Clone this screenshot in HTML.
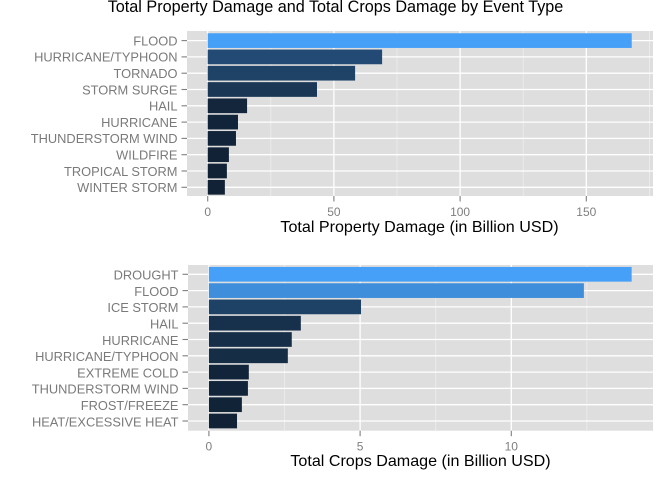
<!DOCTYPE html>
<html>
<head>
<meta charset="utf-8">
<title>Total Property Damage and Total Crops Damage by Event Type</title>
<style>
html,body{margin:0;padding:0;background:#fff;width:672px;height:480px;overflow:hidden}
svg{display:block}
text{font-family:"Liberation Sans",sans-serif}
</style>
</head>
<body>
<svg id="chart" width="672" height="480" viewBox="0 0 672 480" xmlns="http://www.w3.org/2000/svg">
<text x="335.5" y="12" text-anchor="middle" font-size="16.2" fill="#000">Total Property Damage and Total Crops Damage by Event Type</text>
</svg>
<script>
const propertyCategories = ["FLOOD","HURRICANE/TYPHOON","TORNADO","STORM SURGE","HAIL","HURRICANE","THUNDERSTORM WIND","WILDFIRE","TROPICAL STORM","WINTER STORM"];
const propertyValues = [168, 69.1, 58.4, 43.3, 15.6, 12, 11.2, 8.4, 7.6, 6.8];
const propertyTicks = [0, 50, 100, 150];
const propertyMinorTicks = [25, 75, 125, 175];
const propertyAxisTitle = "Total Property Damage (in Billion USD)";

const cropCategories = ["DROUGHT","FLOOD","ICE STORM","HAIL","HURRICANE","HURRICANE/TYPHOON","EXTREME COLD","THUNDERSTORM WIND","FROST/FREEZE","HEAT/EXCESSIVE HEAT"];
const cropValues = [13.98, 12.4, 5.03, 3.04, 2.74, 2.61, 1.32, 1.29, 1.09, 0.93];
const cropTicks = [0, 5, 10];
const cropMinorTicks = [2.5, 7.5, 12.5];
const cropAxisTitle = "Total Crops Damage (in Billion USD)";

const svg = document.getElementById('chart');
const NS = 'http://www.w3.org/2000/svg';

function make(tag, attrs, parent) {
  const el = document.createElementNS(NS, tag);
  for (const k in attrs) el.setAttribute(k, attrs[k]);
  parent.appendChild(el);
  return el;
}

function barColor(v, min, max) {
  const t = Math.pow((v - min) / (max - min), 1.2);
  const lo = [17, 34, 54], hi = [70, 160, 247];
  const c = lo.map((l, i) => Math.round(l + (hi[i] - l) * t));
  return 'rgb(' + c.join(',') + ')';
}

function drawPanel(p) {
  const x = v => p.zeroX + v * p.pxPerUnit;
  const y = i => p.firstY + i * p.stepY;
  const min = Math.min(...p.values), max = Math.max(...p.values);

  const g = make('g', {}, svg);
  
  

  const bg = make('rect', {x: p.left, y: p.top, width: p.right - p.left, height: p.bottom - p.top, fill: '#dedede'}, g);
  
  

  p.minor.forEach(v => {
    const l = make('line', {x1: x(v), x2: x(v), y1: p.top, y2: p.bottom, stroke: '#eeeeee', 'stroke-width': 0.8}, g);
    
    
  });
  p.ticks.forEach(v => {
    const l = make('line', {x1: x(v), x2: x(v), y1: p.top, y2: p.bottom, stroke: '#ffffff', 'stroke-width': 1.3}, g);
    
    
  });
  p.categories.forEach((c, i) => {
    const l = make('line', {x1: p.left, x2: p.right, y1: y(i), y2: y(i), stroke: '#ffffff', 'stroke-width': 1.3}, g);
    
    
  });

  p.values.forEach((v, i) => {
    const r = make('rect', {x: x(0), y: y(i) - 7.35, width: x(v) - x(0), height: 14.7, fill: barColor(v, min, max)}, g);
    
    
  });

  p.categories.forEach((c, i) => {
    const tk = make('line', {x1: p.left - 5.5, x2: p.left, y1: y(i), y2: y(i), stroke: '#7f7f7f', 'stroke-width': 1.1}, g);
    
    
    const t = make('text', {x: p.left - 9.5, y: y(i) + p.labelDy, 'text-anchor': 'end', 'font-size': 12.85, fill: '#7a7a7a'}, g);
    
    
    t.textContent = c;
  });

  p.ticks.forEach(v => {
    const tk = make('line', {x1: x(v), x2: x(v), y1: p.bottom, y2: p.bottom + 5.5, stroke: '#7f7f7f', 'stroke-width': 1.1}, g);
    
    
    const t = make('text', {x: x(v), y: p.bottom + 20, 'text-anchor': 'middle', 'font-size': 12, fill: '#7f7f7f'}, g);
    
    
    t.textContent = v;
  });

  const at = make('text', {x: p.titleX, y: p.titleY, 'text-anchor': 'middle', 'font-size': 16.1, fill: '#000'}, g);
  
  
  at.textContent = p.axisTitle;
}

drawPanel({
  name: 'property', categories: propertyCategories, values: propertyValues,
  ticks: propertyTicks, minor: propertyMinorTicks, axisTitle: propertyAxisTitle,
  left: 187, right: 653, top: 31, bottom: 196,
  zeroX: 207.7, pxPerUnit: 2.524, firstY: 40.6, stepY: 16.3,
  titleX: 419.5, titleY: 232, labelDy: 4.8
});
drawPanel({
  name: 'crops', categories: cropCategories, values: cropValues,
  ticks: cropTicks, minor: cropMinorTicks, axisTitle: cropAxisTitle,
  left: 188, right: 653, top: 265, bottom: 430.7,
  zeroX: 208.9, pxPerUnit: 30.24, firstY: 274.3, stepY: 16.3,
  titleX: 420.5, titleY: 466, labelDy: 5.3
});
</script>
</body>
</html>
